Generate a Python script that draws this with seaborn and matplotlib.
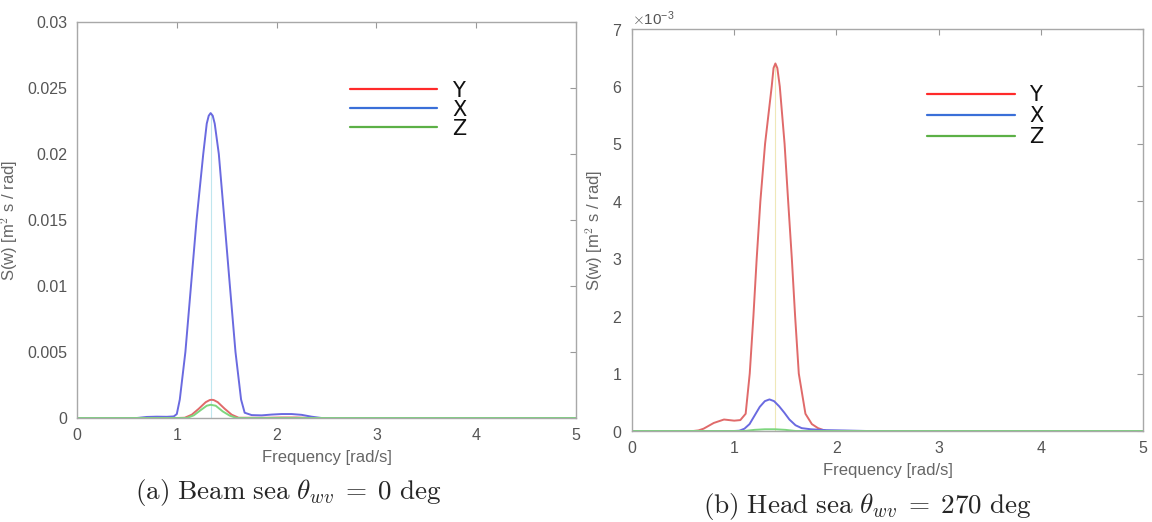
import numpy as np
import pandas as pd
import seaborn as sns
import matplotlib.pyplot as plt
from matplotlib.ticker import ScalarFormatter

# Spectra (frequency in rad/s, S(w) in m^2 s / rad)
# (a) beam sea
beam_y_w = [0.0, 1.0, 1.08, 1.15, 1.22, 1.29, 1.33, 1.35, 1.37, 1.41, 1.48, 1.55, 1.62, 1.9,
            2.05, 2.2, 2.35, 5.0]
beam_y = [0, 0, 0.00002, 0.00025, 0.0007, 0.0012, 0.00136, 0.00138, 0.00136, 0.0012, 0.0007,
          0.00025, 0.00002, 0.00002, 0.00004, 0.00004, 0, 0]
beam_x_w = [0.0, 0.6, 0.7, 0.8, 0.9, 0.97, 1.0, 1.03, 1.086, 1.142, 1.198, 1.265, 1.30, 1.32,
            1.339, 1.36, 1.38, 1.421, 1.477, 1.532, 1.588, 1.644, 1.68, 1.75, 1.85, 1.95, 2.05,
            2.15, 2.25, 2.35, 2.45, 5.0]
beam_x = [0, 0, 0.00008, 0.0001, 0.00009, 0.00012, 0.0003, 0.0014, 0.005, 0.01, 0.015, 0.02,
          0.0223, 0.0229, 0.0231, 0.0229, 0.0223, 0.02, 0.015, 0.01, 0.005, 0.0014, 0.0004,
          0.00022, 0.0002, 0.00026, 0.0003, 0.0003, 0.00024, 0.0001, 0, 0]
beam_z_w = [0.0, 1.1, 1.17, 1.24, 1.30, 1.34, 1.39, 1.46, 1.53, 1.6, 5.0]
beam_z = [0, 0, 0.0002, 0.0006, 0.00093, 0.001, 0.00093, 0.0005, 0.00018, 0, 0]

# (b) head sea
head_y_w = [0.0, 0.6, 0.65, 0.7, 0.8, 0.9, 1.0, 1.06, 1.112, 1.152, 1.188, 1.22, 1.256, 1.302,
            1.367, 1.385, 1.403, 1.422, 1.446, 1.493, 1.528, 1.564, 1.596, 1.632, 1.697, 1.76,
            1.82, 1.9, 5.0]
head_y = [0, 0, 0.00001, 0.00004, 0.00014, 0.0002, 0.00018, 0.00019, 0.0003, 0.001, 0.002,
          0.003, 0.004, 0.005, 0.006, 0.00632, 0.0064, 0.00632, 0.006, 0.005, 0.004, 0.003,
          0.002, 0.001, 0.0003, 0.00012, 0.00005, 0, 0]
head_x_w = [0.0, 1.0, 1.05, 1.1, 1.15, 1.2, 1.25, 1.3, 1.345, 1.39, 1.44, 1.49, 1.54, 1.6,
            1.66, 1.75, 1.9, 2.1, 2.3, 5.0]
head_x = [0, 0, 0.000005, 0.00004, 0.00012, 0.00027, 0.00042, 0.00052, 0.00055, 0.00052,
          0.00043, 0.00032, 0.0002, 0.0001, 0.00005, 0.00003, 0.000015, 0.000008, 0, 0]
head_z_w = [0.0, 1.1, 1.2, 1.3, 1.35, 1.4, 1.5, 1.6, 5.0]
head_z = [0, 0, 0.00002, 0.00003, 0.00003, 0.00003, 0.00002, 0, 0]

series_names = ['Y', 'X', 'Z']
curve_colors = {'Y': '#e06a6a', 'X': '#6a6ae0', 'Z': '#7ed67e'}
legend_colors = {'Y': '#ff2a2a', 'X': '#3a6fd8', 'Z': '#5cb046'}
captions = [r'$\mathrm{(a)\ Beam\ sea}\ \theta_{wv}\;=\;0\ \mathrm{deg}$',
            r'$\mathrm{(b)\ Head\ sea}\ \theta_{wv}\;=\;270\ \mathrm{deg}$']

sns.set_theme(style='white')
plt.rcParams['font.family'] = ['Liberation Sans', 'DejaVu Sans']
plt.rcParams['mathtext.fontset'] = 'cm'

fig = plt.figure(figsize=(11.52, 5.22), dpi=100)
ax_a = fig.add_axes([77 / 1152, 1 - 418 / 522, 499 / 1152, 396 / 522])
ax_b = fig.add_axes([632 / 1152, 1 - 431 / 522, 511 / 1152, 402 / 522])

panels = [
    (ax_a, {'Y': (beam_y_w, beam_y), 'X': (beam_x_w, beam_x), 'Z': (beam_z_w, beam_z)},
     0.03, '#bfe6ee', (0.547, 0.852), -0.05),
    (ax_b, {'Y': (head_y_w, head_y), 'X': (head_x_w, head_x), 'Z': (head_z_w, head_z)},
     0.007, '#efe8b8', (0.578, 0.860), 0.05),
]

for ax, series, ymax, vcol, leg_pos, lspace in panels:
    df = pd.concat([pd.DataFrame({'freq': series[n][0], 'S': series[n][1], 'dof': n})
                    for n in series_names], ignore_index=True)
    sns.lineplot(data=df, x='freq', y='S', hue='dof', palette=curve_colors,
                 linewidth=1.4, ax=ax, legend=False, sort=False)
    # faint marker at peak frequency of the dominant response
    main = max(series_names, key=lambda n: max(series[n][1]))
    k = int(np.argmax(series[main][1]))
    ax.vlines(series[main][0][k], 0, series[main][1][k], color=vcol, linewidth=0.8, zorder=0)

    # legend drawn as plain lines, no frame
    handles = [plt.Line2D([], [], color=legend_colors[n], linewidth=1.6) for n in series_names]
    leg = ax.legend(handles, series_names, loc='upper left', bbox_to_anchor=leg_pos,
                    frameon=False, borderpad=0, borderaxespad=0,
                    handlelength=4.2, handletextpad=0.7, labelspacing=lspace,
                    prop={'family': 'DejaVu Sans', 'size': 15})
    for t in leg.get_texts():
        t.set_color('#111111')

    ax.set_xlim(0, 5)
    ax.set_ylim(0, ymax)
    ax.set_xticks([0, 1, 2, 3, 4, 5])
    ax.set_xlabel('Frequency [rad/s]', fontsize=12, color='#666666', labelpad=5)
    ax.set_ylabel(r'S(w) [m$^2$ s / rad]', fontsize=12, color='#666666', labelpad=5)
    ax.tick_params(direction='in', length=4, width=0.8, colors='#999999',
                   labelcolor='#555555', labelsize=11.5, top=True, right=True, pad=7)
    for sp in ax.spines.values():
        sp.set_color('#a8a8a8')
        sp.set_linewidth(1.0)
    ax.grid(False)

ax_a.set_yticks([0, 0.005, 0.01, 0.015, 0.02, 0.025, 0.03])
ax_a.set_yticklabels(['0', '0.005', '0.01', '0.015', '0.02', '0.025', '0.03'])
fmt = ScalarFormatter(useMathText=True)
fmt.set_powerlimits((-3, -3))
ax_b.yaxis.set_major_formatter(fmt)
ax_b.set_yticks(np.arange(0, 0.0071, 0.001))
ax_b.yaxis.get_offset_text().set_color('#555555')
ax_b.yaxis.get_offset_text().set_fontsize(11)

fig.text(288 / 1152, 1 - 492 / 522, captions[0], fontsize=19.5, ha='center', va='center')
fig.text(867 / 1152, 1 - 507 / 522, captions[1], fontsize=19.5, ha='center', va='center')

fig.savefig('out.png', dpi=100)
